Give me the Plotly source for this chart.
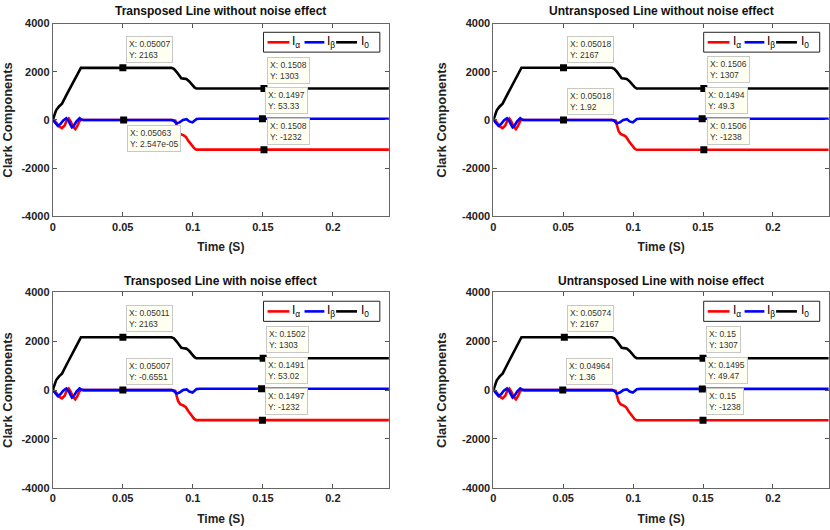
import plotly.graph_objects as go
from plotly.subplots import make_subplots

# ---------------- data ----------------
TITLES = ["Transposed Line without noise effect",
          "Untransposed Line without noise effect",
          "Transposed Line with noise effect",
          "Untransposed Line with noise effect"]

X_TICKS = [0, 0.05, 0.1, 0.15, 0.2]
X_TICK_LABELS = ["0", "0.05", "0.1", "0.15", "0.2"]
Y_TICKS = [-4000, -2000, 0, 2000, 4000]
Y_TICK_LABELS = ["-4000", "-2000", "0", "2000", "4000"]

# I0 (zero-sequence) component
T_I0 = [0, 0.001, 0.0024, 0.0045, 0.0066, 0.0102, 0.0137, 0.0173, 0.0201,
        0.0847, 0.0865, 0.0885, 0.0905, 0.0918, 0.0935, 0.0954, 0.0975,
        0.0995, 0.1012, 0.1025, 0.24]
I0_TRANS = [0, 200, 400, 560, 675, 1080, 1480, 1890, 2163,
            2163, 2120, 1990, 1820, 1730, 1715, 1700, 1600,
            1460, 1350, 1303, 1303]
I0_UNTRANS = [0, 200, 400, 560, 675, 1080, 1480, 1890, 2167,
              2167, 2124, 1994, 1824, 1734, 1719, 1704, 1604,
              1464, 1354, 1307, 1307]

# I-alpha component
T_IA = [0, 0.0015, 0.003, 0.0045, 0.0066, 0.0085, 0.0100, 0.0114, 0.0128,
        0.0145, 0.0161, 0.0175, 0.0190, 0.0201,
        0.0850, 0.0875, 0.0895, 0.0910, 0.0935, 0.0950, 0.0970, 0.0990,
        0.1010, 0.1025, 0.24]
IA_TRANS = [0, -40, -150, -270, -340, -230, -20, 60, -60,
            -280, -380, -260, -60, 0,
            0, -30, -450, -580, -640, -700, -880, -1050,
            -1180, -1232, -1232]
IA_UNTRANS = [0, -40, -150, -270, -340, -230, -20, 60, -60,
              -280, -380, -260, -60, 0,
              0, -30, -450, -580, -645, -705, -885, -1055,
              -1185, -1238, -1238]

# I-beta component
T_IB = [0, 0.0015, 0.0036, 0.0055, 0.0075, 0.0097, 0.0112, 0.0125, 0.0137,
        0.0150, 0.0170, 0.0192, 0.0205, 0.0220,
        0.0850, 0.0865, 0.0885, 0.0905, 0.0930, 0.0956, 0.0975, 0.0998,
        0.1012, 0.1027, 0.1050, 0.24]
IB_TRANS = [0, -120, -240, -170, -20, 70, -30, -180, -300,
            -240, -60, 70, 20, 0,
            0, -40, -140, -100, 0, 30, -60, -100,
            -30, 40, 53, 53]
IB_UNTRANS = [0, -120, -240, -170, -20, 70, -30, -180, -300,
              -240, -60, 70, 20, 0,
              0, -40, -140, -100, 0, 30, -60, -100,
              -30, 37, 49, 49]

PANEL_I0 = [I0_TRANS, I0_UNTRANS, I0_TRANS, I0_UNTRANS]
PANEL_IA = [IA_TRANS, IA_UNTRANS, IA_TRANS, IA_UNTRANS]
PANEL_IB = [IB_TRANS, IB_UNTRANS, IB_TRANS, IB_UNTRANS]

# data tips: (X label, Y label) as displayed, marker positions from them
TIP_X = [
    ["0.05007", "0.1508", "0.1497", "0.1508", "0.05063"],
    ["0.05018", "0.1506", "0.05018", "0.1494", "0.1506"],
    ["0.05011", "0.1502", "0.05007", "0.1491", "0.1497"],
    ["0.05074", "0.15", "0.04964", "0.1495", "0.15"],
]
TIP_Y = [
    ["2163", "1303", "53.33", "-1232", "2.547e-05"],
    ["2167", "1307", "1.92", "49.3", "-1238"],
    ["2163", "1303", "-0.6551", "53.02", "-1232"],
    ["2167", "1307", "1.36", "49.47", "-1238"],
]
TIP_BELOW = [
    [False, False, False, False, True],
    [False] * 5,
    [False] * 5,
    [False] * 5,
]

LEGEND_NAMES = ["I<sub>α</sub>", "I<sub>β</sub>", "I<sub>0</sub>"]
COLORS = ["#ff0000", "#0000ff", "#000000"]

# ---------------- layout ----------------
DOMAINS = [
    ([0.059, 0.466], [0.594, 0.966]),
    ([0.5925, 0.9985], [0.594, 0.966]),
    ([0.059, 0.466], [0.070, 0.447]),
    ([0.5925, 0.9985], [0.070, 0.447]),
]
POS = [(1, 1), (1, 2), (2, 1), (2, 2)]
TITLE_SHIFT = [4, 4, 2, 2]

fig = make_subplots(rows=2, cols=2)

FONT = "Liberation Sans, Arial, sans-serif"

for i in range(4):
    r, c = POS[i]
    xs = "" if i == 0 else str(i + 1)
    for t, y, col in [(T_IA, PANEL_IA[i], COLORS[0]),
                      (T_IB, PANEL_IB[i], COLORS[1]),
                      (T_I0, PANEL_I0[i], COLORS[2])]:
        fig.add_trace(go.Scatter(x=t, y=y, mode="lines",
                                 line=dict(color=col, width=2.6),
                                 showlegend=False, hoverinfo="skip"),
                      row=r, col=c)
    tx = [float(v) for v in TIP_X[i]]
    ty = [float(v) for v in TIP_Y[i]]
    fig.add_trace(go.Scatter(x=tx, y=ty, mode="markers",
                             marker=dict(symbol="square", size=7, color="black"),
                             showlegend=False, hoverinfo="skip"),
                  row=r, col=c)
    for xl, yl, below in zip(TIP_X[i], TIP_Y[i], TIP_BELOW[i]):
        fig.add_annotation(
            x=float(xl), y=float(yl), xref="x" + xs, yref="y" + xs,
            text=f"X: {xl}<br>Y: {yl}", showarrow=False, align="left",
            xanchor="left", yanchor="top" if below else "bottom",
            xshift=3, yshift=-5 if below else 5,
            font=dict(family=FONT, size=8.5, color="#333333"),
            bgcolor="#fffff2", bordercolor="#c8c8c8", borderwidth=1, borderpad=2)

    xd, yd = DOMAINS[i]
    fig.update_xaxes(domain=xd, range=[0, 0.24], tickvals=X_TICKS,
                     ticktext=X_TICK_LABELS, ticks="inside", ticklen=4,
                     tickcolor="#555", showline=True, linecolor="#666",
                     linewidth=1, mirror="ticks", showgrid=False,
                     zeroline=False,
                     tickfont=dict(family=FONT, size=11, color="#222", weight="bold"),
                     title=dict(text="Time (S)", standoff=11,
                                font=dict(family=FONT, size=12, color="#222",
                                          weight="bold")),
                     row=r, col=c)
    fig.update_yaxes(domain=yd, range=[-4000, 4000], tickvals=Y_TICKS,
                     ticktext=Y_TICK_LABELS, ticks="inside", ticklen=4,
                     tickcolor="#555", showline=True, linecolor="#666",
                     linewidth=1, mirror="ticks", showgrid=False,
                     zeroline=False,
                     tickfont=dict(family=FONT, size=11, color="#222", weight="bold"),
                     title=dict(text="Clark Components", standoff=12,
                                font=dict(family=FONT, size=13, color="#222",
                                          weight="bold")),
                     row=r, col=c)

    # subplot title
    fig.add_annotation(x=0.5, y=1.0, xref=f"x{xs} domain", yref=f"y{xs} domain",
                       text=TITLES[i], showarrow=False, yanchor="bottom",
                       yshift=TITLE_SHIFT[i],
                       font=dict(family=FONT, size=12, color="#111", weight="bold"))

    # legend box (inside axes)
    fig.add_shape(type="rect", xref=f"x{xs} domain", yref=f"y{xs} domain",
                  x0=0.627, x1=0.973, y0=0.852, y1=0.955,
                  line=dict(color="#222", width=1), fillcolor="white",
                  layer="above")
    seg = [(0.639, 0.704, 0.707), (0.749, 0.808, 0.811), (0.843, 0.905, 0.911)]
    for (x0, x1, xt), nm, col in zip(seg, LEGEND_NAMES, COLORS):
        fig.add_shape(type="line", xref=f"x{xs} domain", yref=f"y{xs} domain",
                      x0=x0, x1=x1, y0=0.903, y1=0.903,
                      line=dict(color=col, width=2.6), layer="above")
        fig.add_annotation(x=xt, y=0.905, xref=f"x{xs} domain",
                           yref=f"y{xs} domain", text=nm, showarrow=False,
                           xanchor="left", yanchor="middle",
                           font=dict(family=FONT, size=12, color="black"))

fig.update_layout(width=830, height=530, margin=dict(l=0, r=0, t=0, b=0),
                  paper_bgcolor="white", plot_bgcolor="white",
                  showlegend=False)

fig.write_html("out.html", config={"displayModeBar": False},
               post_script="document.body.style.margin='0';"
                           "document.body.style.overflow='hidden';")
